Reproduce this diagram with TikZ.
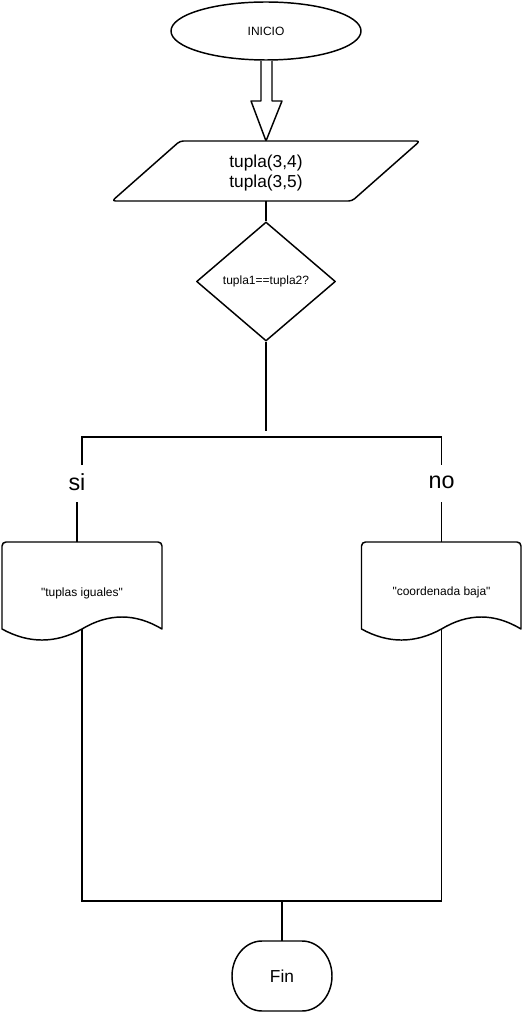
\documentclass[tikz,border=0pt]{standalone}
\usepackage{fontspec}
\setmainfont{Liberation Sans}
\newfontfamily\plainsans{Liberation Sans}
\usetikzlibrary{shapes.geometric}
\begin{document}
\begin{tikzpicture}[x=0.75pt,y=-0.75pt,
  shapebox/.style={draw=black, fill=white, line width=1.1pt, line join=round},
  conn/.style={draw=black, line width=1.1pt},
  smalltxt/.style={inner sep=0pt, align=center, font=\plainsans\fontsize{9}{11}\selectfont},
  bigtxt/.style={inner sep=0pt, align=center, font=\fontsize{13}{15}\selectfont},
  lbl/.style={inner sep=0pt, font=\fontsize{17.5}{20}\selectfont}]
\useasboundingbox (0,0) rectangle (522,1012);

% start
\node[ellipse, shapebox, minimum width=142.5pt, minimum height=43.5pt, inner sep=0pt, smalltxt] (inicio) at (266,31) {INICIO};
% hollow block arrow
\draw[shapebox] (261,61) -- (261,101) -- (251,101) -- (266,141) -- (282,101) -- (272,101) -- (272,61);

% input parallelogram
\draw[shapebox, rounded corners=2.5pt] (112,201) -- (180,141) -- (420,141) -- (352,201) -- cycle;
\node[bigtxt] (inp) at (266,173.5) {tupla(3,4)\\tupla(3,5)};
\coordinate (inpS) at (266,201);

% decision
\node[diamond, shapebox, minimum width=104.25pt, minimum height=89.25pt, inner sep=0pt, smalltxt] (dec) at (266,281.5) {tupla1==tupla2?};
\draw[conn] (inpS) -- (dec.north);
\coordinate (j) at (266,431);
\draw[conn] (dec.south) -- (j);

% branches
\coordinate (slU) at (82,465);
\coordinate (bl) at (82,437);
\coordinate (br) at (441.5,437);
\coordinate (noU) at (441.5,465);
\draw[conn] (slU) -- (bl) -- (br) -- (noU);
\node[lbl] (si) at (77,482) {si};
\node[lbl] (no) at (441.5,482) {no};
\coordinate (slD) at (77,502);
\coordinate (noD) at (441.5,502);

% documents
\draw[shapebox] (2,629) [rounded corners=3pt] -- (2,542) -- (162,542) [sharp corners] -- (162,629)
  .. controls (135.3,613) and (108.7,613) .. (82,629)
  .. controls (55.3,643.7) and (28.7,643.7) .. (2,629) -- cycle;
\node[smalltxt] (docL) at (82,593) {"tuplas iguales"};
\coordinate (dLT) at (77,542);
\coordinate (dLB) at (82,629);

\draw[shapebox] (361.5,629) [rounded corners=3pt] -- (361.5,542) -- (521,542) [sharp corners] -- (521,629)
  .. controls (494.5,613) and (468,613) .. (441.5,629)
  .. controls (414.8,643.7) and (388.2,643.7) .. (361.5,629) -- cycle;
\node[smalltxt] (docR) at (441.5,592) {"coordenada baja"};
\coordinate (dRT) at (441.5,542);
\coordinate (dRB) at (441.5,629);

\draw[conn] (slD) -- (dLT);
\draw[conn] (noD) -- (dRT);

% merge
\coordinate (mL) at (82,901);
\coordinate (mR) at (441.5,901);
\coordinate (mC) at (282,901);
\draw[conn] (dLB) -- (mL) -- (mR) -- (dRB);

% end terminator
\draw[shapebox] (262,941) -- (302,941) arc[start angle=90, end angle=-90, x radius=22.5pt, y radius=26.25pt]
  -- (262,1011) arc[start angle=270, end angle=90, x radius=22.5pt, y radius=26.25pt] -- cycle;
\node[bigtxt] (fin) at (282,976) {Fin};
\coordinate (finN) at (282,941);
\draw[conn] (mC) -- (finN);
\end{tikzpicture}
\end{document}
